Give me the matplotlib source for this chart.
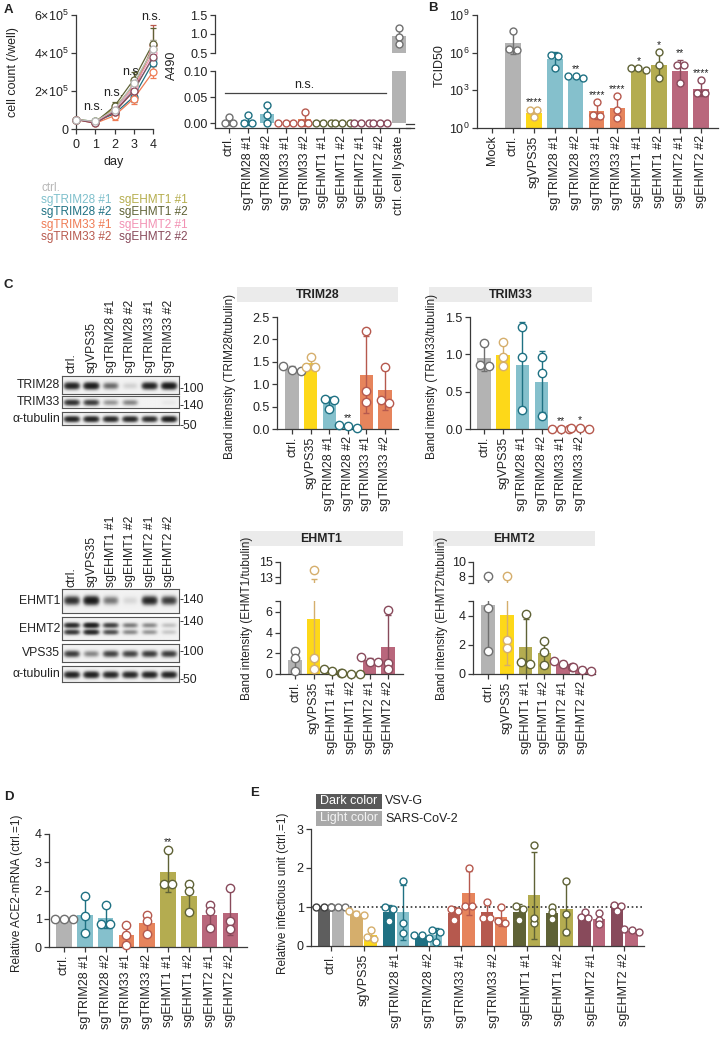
import numpy as np
import matplotlib
matplotlib.use("Agg")
import matplotlib.pyplot as plt
from matplotlib.patches import Rectangle
from matplotlib.lines import Line2D

plt.rcParams['font.family'] = ['Liberation Sans', 'DejaVu Sans']
plt.rcParams['mathtext.fontset'] = 'custom'
plt.rcParams['mathtext.rm'] = 'Liberation Sans'
plt.rcParams['mathtext.it'] = 'Liberation Sans:italic'
plt.rcParams['mathtext.bf'] = 'Liberation Sans:bold'
plt.rcParams['axes.linewidth'] = 0.9
plt.rcParams['axes.edgecolor'] = '#3a3a3a'
plt.rcParams['xtick.color'] = '#3a3a3a'
plt.rcParams['ytick.color'] = '#3a3a3a'
plt.rcParams['xtick.labelcolor'] = '#222222'
plt.rcParams['ytick.labelcolor'] = '#222222'
plt.rcParams['text.color'] = '#222222'
FS = 8.5      # titles, legends, blot labels
FT = 9.0      # tick labels of charts

# ======================= DATA =======================
# Panel A - growth curves
days = [0, 1, 2, 3, 4]
growth_labels = ['ctrl.', 'sgTRIM28 #1', 'sgTRIM28 #2', 'sgTRIM33 #1', 'sgTRIM33 #2',
                 'sgEHMT1 #1', 'sgEHMT1 #2', 'sgEHMT2 #1', 'sgEHMT2 #2']
growth_colors = ['#b7b7b7', '#7fc0cc', '#1f7183', '#ef7b54', '#b85a4e',
                 '#b5ad4c', '#5f6236', '#f291b3', '#884a5b']
growth_mean = [
    [5.0e4, 4.0e4, 1.00e5, 2.40e5, 4.20e5],
    [5.0e4, 3.5e4, 0.90e5, 2.10e5, 3.70e5],
    [5.0e4, 4.0e4, 0.80e5, 1.70e5, 3.50e5],
    [5.0e4, 3.0e4, 0.70e5, 1.60e5, 3.00e5],
    [5.0e4, 3.5e4, 0.90e5, 2.00e5, 4.40e5],
    [5.0e4, 4.0e4, 1.10e5, 2.30e5, 4.20e5],
    [5.0e4, 3.5e4, 1.20e5, 2.60e5, 4.50e5],
    [5.0e4, 3.5e4, 1.00e5, 2.20e5, 4.00e5],
    [5.0e4, 3.0e4, 0.90e5, 2.00e5, 3.80e5],
]
growth_sd = [
    [0, 8e3, 2.0e4, 3.0e4, 5.0e4],
    [0, 8e3, 2.0e4, 3.0e4, 4.0e4],
    [0, 8e3, 2.0e4, 3.0e4, 4.0e4],
    [0, 8e3, 2.0e4, 3.0e4, 3.0e4],
    [0, 8e3, 2.0e4, 3.0e4, 1.1e5],
    [0, 8e3, 2.0e4, 4.0e4, 5.0e4],
    [0, 8e3, 2.0e4, 4.0e4, 8.0e4],
    [0, 8e3, 2.0e4, 3.0e4, 4.0e4],
    [0, 8e3, 2.0e4, 3.0e4, 4.0e4],
]
growth_ns = ['n.s.', 'n.s.', 'n.s.', 'n.s.']   # days 1-4

# Panel A - A490
a490_labels = ['ctrl.', 'sgTRIM28 #1', 'sgTRIM28 #2', 'sgTRIM33 #1', 'sgTRIM33 #2',
               'sgEHMT1 #1', 'sgEHMT1 #2', 'sgEHMT2 #1', 'sgEHMT2 #2', 'ctrl. cell lysate']
a490_genes = ['ctrl', 'TRIM28', 'TRIM28', 'TRIM33', 'TRIM33',
              'EHMT1', 'EHMT1', 'EHMT2', 'EHMT2', 'ctrl']
a490_points = [[0.012, 0.0, 0.0], [0.015, 0.0, 0.0], [0.035, 0.015, 0.0],
               [0.0, 0.0, 0.0], [0.022, 0.0, 0.0], [0.0, 0.0, 0.0], [0.0, 0.0, 0.0],
               [0.0, 0.0, 0.0], [0.0, 0.0, 0.0], [1.15, 0.92, 0.75]]

# Panel B - TCID50 (log10 of replicate values)
tcid_labels = ['Mock', 'ctrl.', 'sgVPS35', 'sgTRIM28 #1', 'sgTRIM28 #2', 'sgTRIM33 #1',
               'sgTRIM33 #2', 'sgEHMT1 #1', 'sgEHMT1 #2', 'sgEHMT2 #1', 'sgEHMT2 #2']
tcid_genes = ['ctrl', 'ctrl', 'VPS35', 'TRIM28', 'TRIM28', 'TRIM33', 'TRIM33',
              'EHMT1', 'EHMT1', 'EHMT2', 'EHMT2']
tcid_log10 = [None, [7.75, 6.29, 6.23], [1.40, 1.40, 0.85], [5.84, 5.76, 4.77],
              [4.16, 4.11, 3.98], [2.04, 0.93, 1.06], [2.52, 1.46, 0.80],
              [4.59, 4.77, 4.77], [6.05, 4.99, 3.98], [5.04, 5.04, 3.58],
              [3.79, 2.79, 2.79]]
tcid_sig = ['', '', '****', '', '**', '****', '****', '*', '*', '**', '****']

# Panel C - western blots (relative band darkness per lane)
blot1_lanes = ['ctrl.', 'sgVPS35', 'sgTRIM28 #1', 'sgTRIM28 #2', 'sgTRIM33 #1', 'sgTRIM33 #2']
blot1_TRIM28 = [0.85, 0.95, 0.35, 0.06, 0.85, 1.00]
blot1_TRIM33 = [0.70, 0.60, 0.20, 0.25, 0.00, 0.02]
blot1_tubulin = [0.85, 0.85, 0.80, 0.80, 0.75, 0.95]
blot2_lanes = ['ctrl.', 'sgVPS35', 'sgEHMT1 #1', 'sgEHMT1 #2', 'sgEHMT2 #1', 'sgEHMT2 #2']
blot2_EHMT1 = [0.70, 1.00, 0.30, 0.05, 0.80, 0.60]
blot2_EHMT2 = [0.80, 1.00, 0.60, 0.30, 0.25, 0.10]
blot2_VPS35 = [0.60, 0.25, 0.55, 0.55, 0.60, 0.60]
blot2_tubulin = [0.85, 0.90, 0.80, 0.80, 0.85, 0.85]

# Panel C - band quantification
cq1_labels = ['ctrl.', 'sgVPS35', 'sgTRIM28 #1', 'sgTRIM28 #2', 'sgTRIM33 #1', 'sgTRIM33 #2']
cq1_genes = ['ctrl', 'VPS35', 'TRIM28', 'TRIM28', 'TRIM33', 'TRIM33']
trim28_band = [[1.41, 1.31, 1.30], [1.61, 1.39, 1.39], [0.67, 0.65, 0.44],
               [0.06, 0.08, 0.02], [2.19, 0.84, 0.61], [1.38, 0.59, 0.64]]
trim28_sig = ['', '', '', '**', '', '']
trim33_band = [[1.15, 0.86, 0.85], [1.17, 0.97, 0.85], [1.37, 0.97, 0.25],
               [0.97, 0.75, 0.18], [0.0, 0.0, 0.0], [0.01, 0.02, 0.0]]
trim33_sig = ['', '', '', '', '**', '*']
cq2_labels = ['ctrl.', 'sgVPS35', 'sgEHMT1 #1', 'sgEHMT1 #2', 'sgEHMT2 #1', 'sgEHMT2 #2']
cq2_genes = ['ctrl', 'VPS35', 'EHMT1', 'EHMT1', 'EHMT2', 'EHMT2']
ehmt1_band = [[2.2, 1.5, 0.3], [13.9, 1.5, 0.5], [0.5, 0.3, 0.1],
              [0.05, 0.04, 0.03], [1.6, 1.2, 1.2], [6.2, 1.1, 0.5]]
ehmt2_band = [[8.1, 4.55, 1.6], [8.1, 2.35, 1.8], [4.1, 0.8, 0.7],
              [2.3, 1.5, 0.6], [0.9, 0.7, 0.5], [0.5, 0.3, 0.2]]

# Panel D - ACE2 mRNA
ace2_labels = ['ctrl.', 'sgTRIM28 #1', 'sgTRIM28 #2', 'sgTRIM33 #1', 'sgTRIM33 #2',
               'sgEHMT1 #1', 'sgEHMT1 #2', 'sgEHMT2 #1', 'sgEHMT2 #2']
ace2_genes = ['ctrl', 'TRIM28', 'TRIM28', 'TRIM33', 'TRIM33', 'EHMT1', 'EHMT1', 'EHMT2', 'EHMT2']
ace2_points = [[1, 1, 1], [1.82, 1.08, 0.50], [1.49, 0.82, 0.82], [0.79, 0.44, 0.06],
               [1.12, 0.92, 0.47], [3.45, 2.24, 2.24], [2.22, 1.97, 1.24],
               [1.49, 1.29, 0.67], [2.09, 0.92, 0.62]]
ace2_sig = ['', '', '', '', '', '**', '', '', '']

# Panel E - pseudovirus infection
inf_labels = ['ctrl.', 'sgVPS35', 'sgTRIM28 #1', 'sgTRIM28 #2', 'sgTRIM33 #1', 'sgTRIM33 #2',
              'sgEHMT1 #1', 'sgEHMT1 #2', 'sgEHMT2 #1', 'sgEHMT2 #2']
inf_genes = ['ctrl', 'VPS35', 'TRIM28', 'TRIM28', 'TRIM33', 'TRIM33',
             'EHMT1', 'EHMT1', 'EHMT2', 'EHMT2']
vsvg_points = [[1, 1, 1], [0.79, 0.90, 0.81], [1.00, 0.95, 0.64], [0.21, 0.28, 0.28],
               [0.96, 0.90, 0.67], [1.12, 0.73, 0.73], [1.02, 0.95, 0.67],
               [1.00, 0.88, 0.68], [0.88, 0.72, 0.75], [1.06, 1.03, 0.90]]
sars_points = [[1, 1, 1], [0.41, 0.24, 0.17], [1.67, 0.60, 0.34], [0.41, 0.35, 0.11],
               [2.00, 1.03, 1.03], [1.00, 0.64, 0.58], [2.59, 0.60, 0.71],
               [1.67, 0.81, 0.37], [0.84, 0.67, 0.56], [0.43, 0.41, 0.35]]
legend_E = [('Dark color', 'VSV-G'), ('Light color', 'SARS-CoV-2')]

# ======================= COLOURS =======================
LIGHT = {'ctrl': '#b3b3b3', 'VPS35': '#fdd819', 'TRIM28': '#85c0cc',
         'TRIM33': '#e6845c', 'EHMT1': '#b4ac50', 'EHMT2': '#b9677c'}
DARK = {'ctrl': '#5e5e5e', 'VPS35': '#d5ae6c', 'TRIM28': '#1f7183',
        'TRIM33': '#b6594e', 'EHMT1': '#5f6236', 'EHMT2': '#884a5b'}
EDGE = dict(DARK)
EDGE['ctrl'] = '#707070'

# ======================= HELPERS =======================
W, H = 727, 1041
fig = plt.figure(figsize=(W / 100, H / 100), dpi=100)


def px_ax(x0, y0, x1, y1):
    return fig.add_axes([x0 / W, 1 - y1 / H, (x1 - x0) / W, (y1 - y0) / H])


def ftext(x, y, s, **kw):
    kw.setdefault('fontsize', FS)
    return fig.text(x / W, 1 - y / H, s, **kw)


def clean(ax, bottom=True):
    ax.spines['top'].set_visible(False)
    ax.spines['right'].set_visible(False)
    if not bottom:
        ax.spines['bottom'].set_visible(False)
        ax.tick_params(axis='x', bottom=False, labelbottom=False)
    ax.tick_params(direction='out', length=3.5, width=0.9, labelsize=FT, pad=1.8)
    ax.patch.set_alpha(0)


def swarm(ax, x, vals, ms):
    d = ms * 100 / 72 * 1.05
    T = ax.transData
    n = len(vals)
    ys = T.transform(np.column_stack([np.full(n, x), vals]))[:, 1]
    pxu = T.transform((x + 1, vals[0]))[0] - T.transform((x, vals[0]))[0]
    order = np.argsort(-ys)
    groups = [[order[0]]]
    for k in order[1:]:
        if abs(ys[k] - ys[groups[-1][-1]]) < 0.55 * d:
            groups[-1].append(k)
        else:
            groups.append([k])
    offs = np.zeros(n)
    for g in groups:
        for j, k in enumerate(g):
            offs[k] = (j - (len(g) - 1) / 2) * d / pxu
    return offs


def draw_group(ax, x, pts, face, edge, width, ms=5.0, log=False):
    pts = np.asarray(pts, float)
    if log:
        lp = np.log10(pts)
        mu, sd = lp.mean(), lp.std(ddof=1)
        m, lo, hi = 10 ** mu, 10 ** (mu - sd), 10 ** (mu + sd)
        ax.bar(x, m - 1, width, bottom=1, color=face, linewidth=0, zorder=2)
    else:
        m, sd = pts.mean(), pts.std(ddof=1)
        lo, hi = m - sd, m + sd
        ax.bar(x, m, width, color=face, linewidth=0, zorder=2)
    if sd > 0:
        ax.errorbar([x], [m], yerr=[[m - lo], [hi - m]], fmt='none', ecolor=edge,
                    elinewidth=1.0, capsize=2.3, capthick=1.0, zorder=3)
    offs = swarm(ax, x, pts, ms)
    ylo, yhi = ax.get_ylim()
    sel = (pts >= ylo - 1e-9) & (pts <= yhi)
    if sel.any():
        ax.plot(x + offs[sel], pts[sel], 'o', ms=ms, mfc='white', mec=edge, mew=1.0,
                zorder=4, clip_on=False, linestyle='none')
    return max(hi, pts.max())


def star(ax, x, y, s, ms):
    if s:
        ax.annotate(s, xy=(x, y), xytext=(0, ms / 2 + 0.3), textcoords='offset points',
                    ha='center', va='baseline', fontsize=7.5, annotation_clip=False)


def xlabels(ax, xs, labels):
    ax.set_xticks(xs)
    ax.set_xticklabels(labels, rotation=90, fontsize=FT)


def blot(x0, y0, x1, y1, vals, label, marker, marker_y, doublet=False, sigma=0.17, yc=0.55):
    ax = px_ax(x0, y0, x1, y1)
    nx, ny = 300, 80
    X = np.linspace(0, len(vals), nx)
    Y = np.linspace(0, 1, ny)
    dens = np.zeros((ny, nx))
    centers = [(yc, 1.0)] if not doublet else [(0.36, 0.95), (0.66, 0.8)]
    for i, v in enumerate(vals):
        hprof = np.exp(-np.abs((X - (i + 0.5)) / 0.37) ** 4)
        for c, a in centers:
            vprof = np.exp(-((Y - c) / sigma) ** 2)
            dens += v * a * np.outer(vprof, hprof)
    img = 0.95 - 0.93 * (1 - np.exp(-2.4 * dens))
    ax.imshow(img, cmap='gray', vmin=0, vmax=1, extent=[0, len(vals), 1, 0],
              aspect='auto', interpolation='bilinear')
    ax.set_xticks([])
    ax.set_yticks([])
    for s in ax.spines.values():
        s.set_color('#555555')
        s.set_linewidth(0.8)
    ftext(x0 - 2, (y0 + y1) / 2, label, ha='right', va='center', fontsize=8.8)
    ftext(x1 + 0.5, marker_y, '-' + marker, ha='left', va='center', fontsize=8.8)


def header(x0, y0, x1, y1, title):
    fig.patches.append(Rectangle((x0 / W, 1 - y1 / H), (x1 - x0) / W, (y1 - y0) / H,
                                 transform=fig.transFigure, facecolor='#ebebeb',
                                 edgecolor='none'))
    ftext((x0 + x1) / 2, (y0 + y1) / 2, title, ha='center', va='center',
          fontweight='bold', fontsize=8.8)


# ======================= PANEL A =======================
ftext(4, 10, 'A', fontweight='bold', fontsize=9.5, ha='left', va='center')
axL = px_ax(76, 15, 153, 129)
clean(axL)
axL.set_xlim(0, 4)
axL.set_ylim(0, 6e5)
axL.set_xticks(days)
axL.set_yticks([0, 2e5, 4e5, 6e5])
axL.set_yticklabels(['0', r'$2{\times}10^5$', r'$4{\times}10^5$', r'$6{\times}10^5$'])
axL.tick_params(axis='x', pad=4)
for i in list(range(1, 9)) + [0]:
    c = growth_colors[i]
    axL.errorbar(days, growth_mean[i], yerr=growth_sd[i], color=c, lw=0.9,
                 elinewidth=0.9, capsize=2.2, capthick=0.9, marker='o', ms=5,
                 mfc='white', mec=c, mew=0.9, clip_on=False, zorder=3)
for d, s, yv in zip(days[1:], growth_ns, [1.16e5, 1.9e5, 3.0e5, 5.9e5]):
    axL.text(d - 0.08, yv, s, ha='center', va='center', fontsize=FT)
ftext(114, 162, 'day', ha='center', va='center', fontsize=FT)
ftext(13, 72, 'cell count (/well)', rotation=90, ha='center', va='center', fontsize=FT)

# legend
rows = [188, 200, 212, 225, 237]
for r, i in zip(rows, [0, 1, 2, 3, 4]):
    ftext(41, r, growth_labels[i], color=growth_colors[i], ha='left', va='center')
for r, i in zip(rows[1:], [5, 6, 7, 8]):
    ftext(119, r, growth_labels[i], color=growth_colors[i], ha='left', va='center')

# A490 broken axis
a_xlim = (-0.74, 9.58)
axU = px_ax(215, 15, 410, 53)
axLo = px_ax(215, 71, 410, 128)
clean(axU, bottom=False)
clean(axLo)
for a in (axU, axLo):
    a.set_xlim(a_xlim)
axU.set_ylim(0.5, 1.5)
axLo.set_ylim(-0.0096, 0.10)
axU.set_yticks([0.5, 1.0, 1.5])
axU.set_yticklabels(['0.5', '1.0', '1.5'])
axLo.set_yticks([0, 0.05, 0.10])
axLo.set_yticklabels(['0.00', '0.05', '0.10'])
ax_x = np.arange(len(a490_labels))
for a in (axU, axLo):
    for x, p, g in zip(ax_x, a490_points, a490_genes):
        draw_group(a, x, p, LIGHT[g], EDGE[g], 0.72, ms=5)
xlabels(axLo, ax_x, a490_labels)
axLo.plot([-0.2, 8.3], [0.058, 0.058], color='#444444', lw=0.9, zorder=5)
axLo.text(4.0, 0.061, 'n.s.', ha='center', va='bottom', fontsize=FT)
for yy in (123.5, 128):
    fig.add_artist(Line2D([406 / W, 414 / W], [1 - yy / H, 1 - yy / H],
                          color='#3a3a3a', lw=0.9, transform=fig.transFigure))
ftext(172, 65, 'A490', rotation=90, ha='center', va='center', fontsize=FT)

# ======================= PANEL B =======================
ftext(428, 8, 'B', fontweight='bold', fontsize=9.5, ha='left', va='center')
axB = px_ax(477, 15, 718, 128)
clean(axB)
axB.set_yscale('log')
axB.set_ylim(1, 1e9)
axB.set_xlim(-0.72, 10.81)
axB.set_yticks([1, 1e3, 1e6, 1e9])
axB.set_yticklabels([r'$10^0$', r'$10^3$', r'$10^6$', r'$10^9$'])
axB.minorticks_off()
bx = np.arange(len(tcid_labels))
for x, lp, g, s in zip(bx, tcid_log10, tcid_genes, tcid_sig):
    if lp is None:
        continue
    top = draw_group(axB, x, 10 ** np.array(lp), LIGHT[g], EDGE[g], 0.75, ms=5, log=True)
    star(axB, x, top, s, 5)
xlabels(axB, bx, tcid_labels)
ftext(440, 66, 'TCID50', rotation=90, ha='center', va='center', fontsize=FT)

# ======================= PANEL C =======================
ftext(4, 285, 'C', fontweight='bold', fontsize=9.5, ha='left', va='center')
lane_x = [62 + 117 / 6 * (i + 0.5) for i in range(6)]
for lx, name in zip(lane_x, blot1_lanes):
    ftext(lx, 373, name, rotation=90, ha='center', va='bottom', fontsize=8.8)
blot(62, 376, 179, 394, blot1_TRIM28, 'TRIM28', '100', 389)
blot(62, 396, 179, 408, blot1_TRIM33, 'TRIM33', '140', 406, sigma=0.22)
blot(62, 412, 179, 425, blot1_tubulin, 'α-tubulin', '50', 426, sigma=0.2)

for lx, name in zip(lane_x, blot2_lanes):
    ftext(lx, 587, name, rotation=90, ha='center', va='bottom', fontsize=8.8)
blot(62, 589, 179, 613, blot2_EHMT1, 'EHMT1', '140', 600, sigma=0.15, yc=0.5)
blot(62, 617, 179, 640, blot2_EHMT2, 'EHMT2', '140', 622, doublet=True, sigma=0.1)
blot(62, 644, 179, 662, blot2_VPS35, 'VPS35', '100', 652, sigma=0.16)
blot(62, 666, 179, 682, blot2_tubulin, 'α-tubulin', '50', 680, sigma=0.18)

cx = np.arange(6)
# TRIM28 quantification
header(237, 287, 398, 302, 'TRIM28')
axC1 = px_ax(277, 317, 398, 429)
clean(axC1)
axC1.set_xlim(-0.81, 5.7)
axC1.set_ylim(0, 2.5)
axC1.set_yticks([0, 0.5, 1.0, 1.5, 2.0, 2.5])
axC1.set_yticklabels(['0.0', '0.5', '1.0', '1.5', '2.0', '2.5'])
for x, p, g, s in zip(cx, trim28_band, cq1_genes, trim28_sig):
    top = draw_group(axC1, x, p, LIGHT[g], EDGE[g], 0.72, ms=6)
    star(axC1, x, top, s, 6)
xlabels(axC1, cx, cq1_labels)
ftext(230, 376, 'Band intensity (TRIM28/tubulin)', rotation=90, ha='center', va='center')

# TRIM33 quantification
header(429, 287, 592, 302, 'TRIM33')
axC2 = px_ax(470, 317, 592, 429)
clean(axC2)
axC2.set_xlim(-0.745, 5.64)
axC2.set_ylim(0, 1.5)
axC2.set_yticks([0, 0.5, 1.0, 1.5])
axC2.set_yticklabels(['0.0', '0.5', '1.0', '1.5'])
for x, p, g, s in zip(cx, trim33_band, cq1_genes, trim33_sig):
    top = draw_group(axC2, x, p, LIGHT[g], EDGE[g], 0.72, ms=6)
    star(axC2, x, top, s, 6)
xlabels(axC2, cx, cq1_labels)
ftext(432, 376, 'Band intensity (TRIM33/tubulin)', rotation=90, ha='center', va='center')


def broken_chart(x0, x1, xlim, up_lim, up_ticks, lo_lim, lo_ticks, data, genes, labels):
    aU = px_ax(x0, 562, x1, 583)
    aL = px_ax(x0, 601, x1, 674)
    clean(aU, bottom=False)
    clean(aL)
    for a in (aU, aL):
        a.set_xlim(xlim)
    aU.set_ylim(up_lim)
    aL.set_ylim(lo_lim)
    aU.set_yticks([up_lim[0]] + up_ticks)
    aU.set_yticklabels([''] + [str(t) for t in up_ticks])
    aL.set_yticks(lo_ticks + [lo_lim[1]])
    aL.set_yticklabels([str(t) for t in lo_ticks] + [''])
    for a in (aU, aL):
        for x, p, g in zip(cx, data, genes):
            draw_group(a, x, p, LIGHT[g], EDGE[g], 0.72, ms=6)
    xlabels(aL, cx, labels)
    return aU, aL


header(240, 531, 403, 546, 'EHMT1')
broken_chart(280, 403, (-0.81, 5.8), (12.2, 15), [13, 15], (0, 7.05), [0, 2, 4, 6],
             ehmt1_band, cq2_genes, cq2_labels)
ftext(247, 618, 'Band intensity (EHMT1/tubulin)', rotation=90, ha='center', va='center')

header(433, 531, 595, 546, 'EHMT2')
broken_chart(473, 595, (-0.8, 5.7), (7.07, 10), [8, 10], (0, 5.03), [0, 2, 4],
             ehmt2_band, cq2_genes, cq2_labels)
ftext(442, 618, 'Band intensity (EHMT2/tubulin)', rotation=90, ha='center', va='center')

# ======================= PANEL D =======================
ftext(4, 797, 'D', fontweight='bold', fontsize=9.5, ha='left', va='center')
axD = px_ax(49, 834, 247, 947)
clean(axD)
axD.set_xlim(-0.72, 8.8)
axD.set_ylim(0, 4)
axD.set_yticks([0, 1, 2, 3, 4])
dx = np.arange(len(ace2_labels))
for x, p, g, s in zip(dx, ace2_points, ace2_genes, ace2_sig):
    top = draw_group(axD, x, p, LIGHT[g], EDGE[g], 0.75, ms=6)
    star(axD, x, top, s, 6)
xlabels(axD, dx, ace2_labels)
ftext(17, 893, 'Relative ACE2-mRNA (ctrl.=1)', rotation=90, ha='center', va='center')

# ======================= PANEL E =======================
ftext(250, 793, 'E', fontweight='bold', fontsize=9.5, ha='left', va='center')
axE = px_ax(311, 829, 644, 946)
clean(axE)
axE.set_xlim(-0.61, 9.6)
axE.set_ylim(0, 3)
axE.set_yticks([0, 1, 2, 3])
ex = np.arange(len(inf_labels))
for x, pv, ps, g in zip(ex, vsvg_points, sars_points, inf_genes):
    draw_group(axE, x - 0.22, pv, DARK[g], EDGE[g] if g != 'ctrl' else '#3c3c3c', 0.38, ms=5)
    draw_group(axE, x + 0.22, ps, LIGHT[g], EDGE[g], 0.38, ms=5)
axE.axhline(1, color='#333333', lw=1.2, ls=(0, (1, 1.6)), zorder=3.5)
xlabels(axE, ex, inf_labels)
ftext(283, 893, 'Relative infectious unit (ctrl.=1)', rotation=90, ha='center', va='center')
for (box, lab), (y0, y1), fc, tc in zip(legend_E, [(794, 809), (811, 826)],
                                        ['#595959', '#a9a9a9'], ['white', '#f4f4f4']):
    fig.patches.append(Rectangle((316 / W, 1 - y1 / H), 66 / W, (y1 - y0) / H,
                                 transform=fig.transFigure, facecolor=fc, edgecolor='none'))
    ftext(349, (y0 + y1) / 2, box, color=tc, ha='center', va='center', fontsize=9)
    ftext(385, (y0 + y1) / 2, lab, ha='left', va='center', fontsize=9)

fig.savefig('out.png', dpi=100)
